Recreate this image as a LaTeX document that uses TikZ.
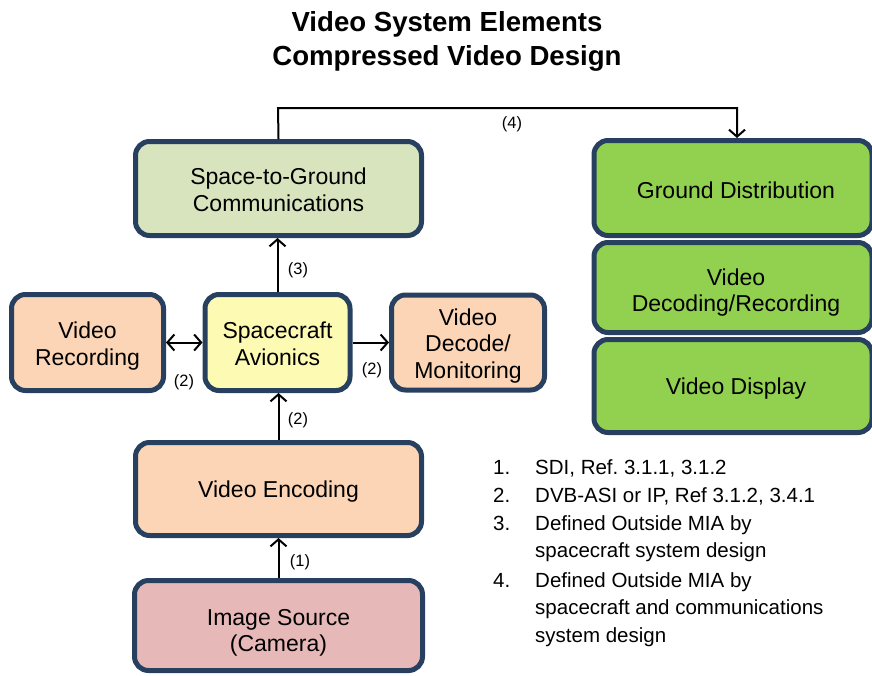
\documentclass[tikz,border=0pt]{standalone}
\usepackage{fontspec}
\setmainfont{Liberation Sans}
\usetikzlibrary{arrows.meta}
\frenchspacing
\definecolor{bordc}{RGB}{39,64,96}
\definecolor{s2gc}{RGB}{215,228,189}
\definecolor{peachc}{RGB}{251,213,181}
\definecolor{yelc}{RGB}{253,250,180}
\definecolor{greenc}{RGB}{146,208,80}
\definecolor{imgc}{RGB}{230,185,184}
% #1 = downward shift of the text in pt (adds 2*#1 of empty height on top)
\newcommand{\boxtext}[2]{\raisebox{0pt}[\dimexpr\height+#1pt+#1pt\relax][\depth]{\begin{tabular}{@{}c@{}}#2\end{tabular}}}
\tikzset{
  box/.style={draw=bordc, line width=5pt, rounded corners=14pt,
    font=\fontsize{23}{26.5}\selectfont, inner sep=0pt},
  lbl/.style={font=\fontsize{16.4}{19}\selectfont, inner sep=0pt},
  arr/.style={line width=2pt, -{Straight Barb[length=7pt,width=16pt]}},
  darr/.style={line width=2pt, {Straight Barb[length=7pt,width=16pt]}-{Straight Barb[length=7pt,width=16pt]}},
  listtxt/.style={font=\fontsize{20.5}{27.5}\selectfont, align=left, inner sep=0pt, anchor=base west}
}
\begin{document}
\begin{tikzpicture}[x=1pt,y=-1pt]
\useasboundingbox (0,0) rectangle (872,675);
% title
\node[font=\bfseries\fontsize{27.6}{34}\selectfont, align=center] (title) at (447,41.5) {Video System Elements\\Compressed Video Design};
% boxes
\node[box, fill=s2gc, minimum width=286pt, minimum height=94pt] (s2g) at (278.5,188.5) {\boxtext{4}{Space-to-Ground\\Communications}};
\node[box, fill=peachc, minimum width=152pt, minimum height=96pt] (rec) at (87.5,342.5) {\boxtext{4}{Video\\Recording}};
\node[box, fill=yelc, minimum width=145pt, minimum height=96pt] (avi) at (277.5,342.5) {\boxtext{4}{Spacecraft\\Avionics}};
\node[box, fill=peachc, minimum width=153pt, minimum height=95pt] (dec) at (468,342.5) {\boxtext{4}{Video\\Decode/\\Monitoring}};
\node[box, fill=peachc, minimum width=286pt, minimum height=93pt] (enc) at (278.5,489) {\boxtext{3}{Video Encoding}};
\node[box, fill=imgc, minimum width=288pt, minimum height=90pt] (img) at (278.5,625.5) {\boxtext{7.5}{Image Source\\(Camera)}};
\node[box, fill=greenc, minimum width=278pt, minimum height=95pt] (gd) at (733,188) {\hspace*{6pt}\boxtext{5}{Ground Distribution}};
\node[box, fill=greenc, minimum width=278pt, minimum height=90pt] (vdr) at (733,287.5) {\hspace*{6pt}\boxtext{5.5}{Video\\Decoding/Recording}};
\node[box, fill=greenc, minimum width=278pt, minimum height=93pt] (vd) at (733,386) {\hspace*{6pt}\boxtext{3}{Video Display}};
% connectors
\coordinate (top4) at (278,108);
\draw[arr] (s2g.north) -- (top4) -| ([xshift=4pt]gd.north);
\draw[arr] (avi.north) -- (avi.north |- s2g.south);
\draw[darr] (rec.east) -- (avi.west);
\draw[arr] (avi.east) -- (dec.west);
\draw[arr] (enc.north) -- (enc.north |- avi.south);
\draw[arr] (img.north) -- (img.north |- enc.south);
% connector labels
\node[lbl] (l4) at (512,124) {(4)};
\node[lbl] (l3) at (298,270) {(3)};
\node[lbl] (l2a) at (184,382) {(2)};
\node[lbl] (l2b) at (372,370) {(2)};
\node[lbl] (l2c) at (298,420) {(2)};
\node[lbl] (l1) at (300,562) {(1)};
% list (base anchor = baseline of last line)
\node[listtxt] (n1) at (493,474) {1.};
\node[listtxt] (t1) at (535,474) {SDI, Ref. 3.1.1, 3.1.2};
\node[listtxt] (n2) at (493,502) {2.};
\node[listtxt] (t2) at (535,502) {DVB-ASI or IP, Ref 3.1.2, 3.4.1};
\node[listtxt] (n3) at (493,530) {3.};
\node[listtxt] (t3) at (535,557.5) {Defined Outside MIA by\\spacecraft system design};
\node[listtxt] (n4) at (493,587) {4.};
\node[listtxt] (t4) at (535,642) {Defined Outside MIA by\\spacecraft and communications\\system design};
\end{tikzpicture}
\end{document}
